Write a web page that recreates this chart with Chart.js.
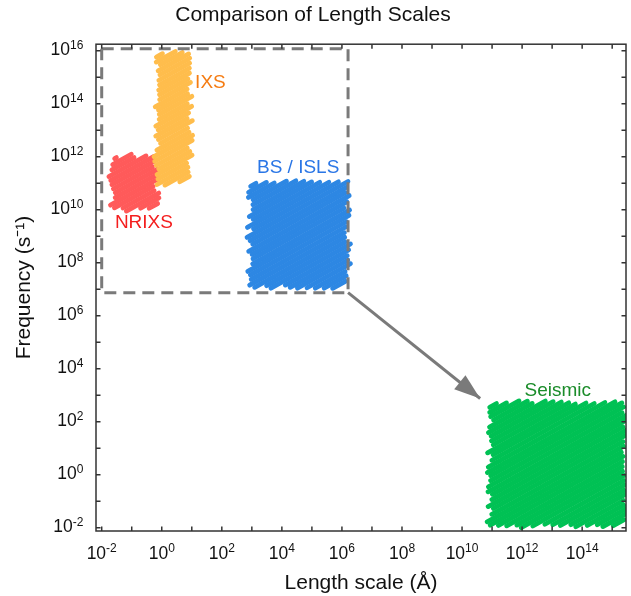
<!DOCTYPE html>
<html>
<head>
<meta charset="utf-8">
<script src="https://cdn.jsdelivr.net/npm/chart.js@4.4.1/dist/chart.umd.min.js"></script>
<style>
  html, body { margin: 0; padding: 0; background: #fff; }
  #wrap { width: 631px; height: 596px; }
</style>
</head>
<body>
<div id="wrap"><canvas id="scalesChart"></canvas></div>
<script>
// ===================
// DATA
// ===================
const regionNames = ["NRIXS", "IXS", "BS / ISLS", "Seismic"];
const lengthMin = [0.025, 0.8, 1000, 1e11];      // Å
const lengthMax = [0.55, 7.5, 1.3e6, 2.2e15];
const freqMin = [1.1e10, 1.1e11, 1.4e7, 1.3e-2];   // s^-1
const freqMax = [1e12, 8e15, 1e11, 4.8e2];

const xTickExp = [-2, -1, 0, 1, 2, 3, 4, 5, 6, 7, 8, 9, 10, 11, 12, 13, 14, 15];
const yTickExp = [-2, -1, 0, 1, 2, 3, 4, 5, 6, 7, 8, 9, 10, 11, 12, 13, 14, 15, 16];

// zoom box and arrow (data coords)
const boxLength = [1e-2, 1.6e6];
const boxFreq = [7.5e6, 1.2e16];
const arrowLength = [1.6e6, 4e10];
const arrowFreq = [7.5e6, 7.6e2];

// label anchors (left, baseline)
const labelLength = [0.0275, 12.9, 1480, 1.2e12];
const labelFreq = [2.0e9, 3.9e14, 2.4e11, 980];

const regionColors = ["#ff5a5a", "#ffbd4c", "#2d87e3", "#00c154"];
const labelColors = ["#f41e1e", "#f57c12", "#2a76e6", "#1b8c2a"];

const FONT = "'Liberation Sans', Arial, Helvetica, sans-serif";
Chart.defaults.font.family = FONT;
Chart.defaults.color = "#111";

// ===================
// scribble fill
// ===================
const rnd = (n) => {
  const s = Math.sin(n * 12.9898 + 78.233) * 43758.5453;
  return s - Math.floor(s);
};

function hatch(ctx, L, T, R, B, color, seed) {
  const a = (29 * Math.PI) / 180;
  const dx = Math.cos(a), dy = -Math.sin(a);
  const nx = Math.sin(a), ny = Math.cos(a);
  const cs = [[L, T], [R, T], [L, B], [R, B]].map((p) => p[0] * nx + p[1] * ny);
  const cMin = Math.min(...cs), cMax = Math.max(...cs);
  ctx.save();
  ctx.strokeStyle = color;
  ctx.lineWidth = 4.8;
  ctx.lineCap = "round";
  let i = 0;
  for (let c = cMin + 2; c < cMax - 1; c += 4.3, i++) {
    const px = c * nx, py = c * ny;
    const xa = (L - px) / dx, xb = (R - px) / dx;
    const ya = (T - py) / dy, yb = (B - py) / dy;
    const t0 = Math.max(Math.min(xa, xb), Math.min(ya, yb));
    const t1 = Math.min(Math.max(xa, xb), Math.max(ya, yb));
    if (t1 <= t0) continue;
    const j0 = rnd(i + seed * 101) * 8 - 2;
    const j1 = rnd(i * 3 + seed * 57 + 7) * 8 - 2;
    ctx.beginPath();
    ctx.moveTo(px + (t0 - j0) * dx, py + (t0 - j0) * dy);
    ctx.lineTo(px + (t1 + j1) * dx, py + (t1 + j1) * dy);
    ctx.stroke();
  }
  ctx.restore();
}

function drawPow(ctx, e, x, y, align) {
  const base = "10", ex = String(e);
  ctx.font = "17.5px " + FONT;
  const wb = ctx.measureText(base).width;
  ctx.font = "12px " + FONT;
  const we = ctx.measureText(ex).width;
  const left = align === "center" ? x - (wb + we) / 2 : x - wb - we;
  ctx.font = "17.5px " + FONT;
  ctx.fillText(base, left, y);
  ctx.font = "12px " + FONT;
  ctx.fillText(ex, left + wb, y - 6.3);
}

const scribblePlugin = {
  id: "scribble",
  beforeDatasetsDraw(chart) {
    const ctx = chart.ctx;
    const area = chart.chartArea;
    ctx.save();
    ctx.beginPath();
    ctx.rect(area.left, area.top, area.right - area.left, area.bottom - area.top);
    ctx.clip();
    chart.data.datasets.forEach((ds, k) => {
      if (!ds.hatchColor) return;
      const pts = chart.getDatasetMeta(k).data;
      const xs = pts.map((p) => p.x), ys = pts.map((p) => p.y);
      hatch(ctx, Math.min(...xs), Math.min(...ys), Math.max(...xs), Math.max(...ys), ds.hatchColor, k * 5 + 1);
    });
    ctx.restore();
  },
  afterDatasetsDraw(chart) {
    const ctx = chart.ctx;
    const x = chart.scales.x, y = chart.scales.y;
    // arrow head
    const meta = chart.getDatasetMeta(chart.data.datasets.findIndex((d) => d.isArrow));
    const p0 = meta.data[0], p1 = meta.data[1];
    const ang = Math.atan2(p1.y - p0.y, p1.x - p0.x);
    const len = 26, half = 9;
    ctx.save();
    ctx.fillStyle = "#7a7a7a";
    ctx.translate(p1.x, p1.y);
    ctx.rotate(ang);
    ctx.beginPath();
    ctx.moveTo(0, 0);
    ctx.lineTo(-len, -half);
    ctx.lineTo(-len, half);
    ctx.closePath();
    ctx.fill();
    ctx.restore();
    // region labels
    ctx.save();
    ctx.font = "19px " + FONT;
    ctx.textAlign = "left";
    ctx.textBaseline = "alphabetic";
    regionNames.forEach((name, i) => {
      ctx.fillStyle = labelColors[i];
      ctx.fillText(name, x.getPixelForValue(labelLength[i]), y.getPixelForValue(labelFreq[i]));
    });
    ctx.restore();
  },
  afterDraw(chart) {
    const ctx = chart.ctx;
    const { left, right, top, bottom } = chart.chartArea;
    const x = chart.scales.x, y = chart.scales.y;
    const tl = 4.5;
    ctx.save();
    ctx.strokeStyle = "#333";
    ctx.lineWidth = 1.5;
    ctx.beginPath();
    x.ticks.forEach((t) => {
      const px = x.getPixelForValue(t.value);
      ctx.moveTo(px, bottom); ctx.lineTo(px, bottom - tl);
      ctx.moveTo(px, top); ctx.lineTo(px, top + tl);
    });
    y.ticks.forEach((t) => {
      const py = y.getPixelForValue(t.value);
      ctx.moveTo(left, py); ctx.lineTo(left + tl, py);
      ctx.moveTo(right, py); ctx.lineTo(right - tl, py);
    });
    ctx.stroke();
    ctx.strokeRect(left, top, right - left, bottom - top);
    // tick labels, every second decade
    ctx.fillStyle = "#111";
    ctx.textAlign = "left";
    ctx.textBaseline = "alphabetic";
    x.ticks.forEach((t) => {
      const e = Math.round(Math.log10(t.value));
      if (e % 2 !== 0) return;
      drawPow(ctx, e, x.getPixelForValue(t.value), bottom + 27.5, "center");
    });
    y.ticks.forEach((t) => {
      const e = Math.round(Math.log10(t.value));
      if (e % 2 !== 0) return;
      drawPow(ctx, e, left - 12.7, y.getPixelForValue(t.value) + 4, "right");
    });
    ctx.restore();
  },
};

// ===================
// datasets
// ===================
const regionSets = regionNames.map((name, i) => ({
  label: name,
  data: [
    { x: lengthMin[i], y: freqMin[i] },
    { x: lengthMax[i], y: freqMin[i] },
    { x: lengthMax[i], y: freqMax[i] },
    { x: lengthMin[i], y: freqMax[i] },
  ],
  hatchColor: regionColors[i],
  showLine: false,
  pointRadius: 0,
}));

const boxSet = {
  label: "zoom box",
  data: [
    { x: boxLength[0], y: boxFreq[1] },
    { x: boxLength[1], y: boxFreq[1] },
    { x: boxLength[1], y: boxFreq[0] },
    { x: boxLength[0], y: boxFreq[0] },
    { x: boxLength[0], y: boxFreq[1] },
  ],
  showLine: true,
  borderColor: "#7a7a7a",
  borderWidth: 3,
  borderDash: [12, 7],
  pointRadius: 0,
  fill: false,
};

const arrowSet = {
  label: "arrow",
  isArrow: true,
  data: [
    { x: arrowLength[0], y: arrowFreq[0] },
    { x: arrowLength[1], y: arrowFreq[1] },
  ],
  showLine: true,
  borderColor: "#7a7a7a",
  borderWidth: 3,
  pointRadius: 0,
  fill: false,
};

const scalesChart = new Chart(document.getElementById("scalesChart"), {
  type: "scatter",
  data: { datasets: [boxSet, arrowSet, ...regionSets] },
  options: {
    responsive: true,
    maintainAspectRatio: false,
    animation: false,
    layout: { padding: { left: 0, right: 5, top: 0, bottom: 0 } },
    plugins: {
      legend: { display: false },
      tooltip: { enabled: false },
      title: {
        display: true,
        text: "Comparison of Length Scales",
        font: { size: 21, weight: "normal" },
        color: "#111",
        padding: { top: 3, bottom: 16 },
      },
    },
    scales: {
      x: {
        type: "logarithmic",
        min: Math.pow(10, -2.19),
        max: Math.pow(10, 15.46),
        afterBuildTicks: (scale) => {
          scale.ticks = xTickExp.map((e) => ({ value: Math.pow(10, e) }));
        },
        afterFit: (scale) => { scale.height = 65; },
        grid: { display: false, drawTicks: false },
        border: { display: false },
        ticks: { display: false },
        title: { display: true, text: "Length scale (Å)", font: { size: 21 }, color: "#111", padding: { top: 0, bottom: 0 } },
      },
      y: {
        type: "logarithmic",
        min: Math.pow(10, -2.12),
        max: Math.pow(10, 16.25),
        afterBuildTicks: (scale) => {
          scale.ticks = yTickExp.map((e) => ({ value: Math.pow(10, e) }));
        },
        afterFit: (scale) => { scale.width = 96; },
        grid: { display: false, drawTicks: false },
        border: { display: false },
        ticks: { display: false },
        title: { display: true, text: "Frequency (s\u207B\u00B9)", font: { size: 21 }, color: "#111", padding: { top: 12, bottom: 0 } },
      },
    },
  },
  plugins: [scribblePlugin],
});
</script>
</body>
</html>
